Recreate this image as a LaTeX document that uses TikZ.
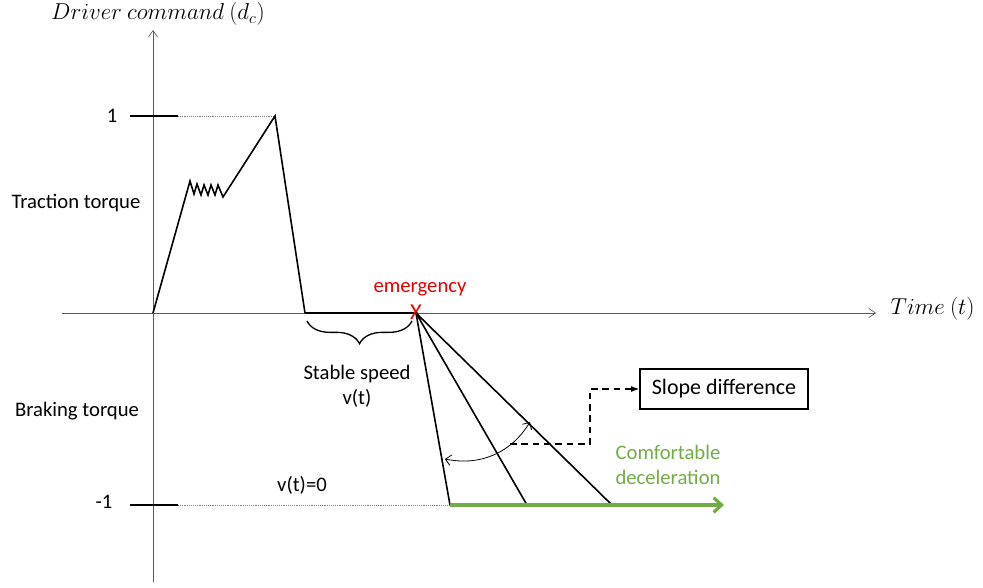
\documentclass[tikz,border=0pt]{standalone}
\usepackage{fontspec}
\setmainfont{Carlito}
\usepackage{tikz}
\usetikzlibrary{positioning, arrows.meta, calc, decorations.pathreplacing}

\definecolor{emred}{RGB}{230,0,0}
\definecolor{comfgreen}{RGB}{112,173,71}

\tikzset{
  axis/.style={-{Straight Barb[length=5pt, width=7pt]}, gray!70!black, line width=0.5pt},
  level/.style={line width=1.3pt},
  guide/.style={densely dotted, gray, thin},
  cmd/.style={line width=1.2pt, black},
  lbl/.style={font=\fontsize{15.5}{19}\selectfont},
  mathlbl/.style={font=\fontsize{17}{19}\selectfont},
  slopebox/.style={draw, line width=1.2pt, minimum width=126pt, minimum height=30pt, font=\fontsize{16.5}{19}\selectfont}
}

\begin{document}
\begin{tikzpicture}[x=0.75pt, y=-0.75pt]
  \useasboundingbox (0,0) rectangle (983,587);
  % axes
  \coordinate (o) at (153,313);
  \coordinate (ybot) at (153,582);
  \coordinate (ytop) at (153,30);
  \coordinate (xl) at (62,313);
  \coordinate (xr) at (876,313);
  \draw[axis] (ybot) -- (ytop);
  \draw[axis] (xl) -- (xr);
  \node[mathlbl] (ttl) at (158,14) {$Driver\ command\ (d_c)$};
  \node[mathlbl, anchor=west] (tlbl) at (886,309) {$Time\ (t)$};

  % levels 1 and -1
  \coordinate (up1) at (130,116); \coordinate (up2) at (178,116);
  \coordinate (lo1) at (130,505); \coordinate (lo2) at (178,505);
  \draw[level] (up1) -- (up2);
  \draw[level] (lo1) -- (lo2);
  \node[lbl] (one) at (112,116) {1};
  \node[lbl] (mone) at (104,502) {-1};
  \node[lbl] (trac) at (76,203) {Traction torque};
  \node[lbl] (brak) at (77,411) {Braking torque};

  % command curve
  \coordinate (peak) at (275,116);
  \coordinate (drop) at (305,313);
  \coordinate (em) at (416,313);
  \draw[guide] (up2) -- (peak);
  \draw[cmd] (o) -- (190,181) -- (194,194) -- (197,184) -- (201,195) -- (204,185)
    -- (208,195) -- (211,185) -- (215,195) -- (218,185) -- (223,197) -- (peak) -- (drop);
  \draw[line width=1.8pt] (drop) -- (em);
  \node[text=emred, font=\fontsize{17}{17}\selectfont] (x) at (416,312) {X};
  \node[lbl, text=emred] (emlbl) at (420,289) {emergency};

  % stable speed
  \draw[decorate, decoration={brace, amplitude=17pt, mirror}, line width=1pt] (307,321) -- (412,321);
  \node[lbl, align=center] (stab) at (357,386) {Stable speed\\v(t)};

  % braking slopes
  \coordinate (b1) at (450,505);
  \coordinate (b2) at (527,505);
  \coordinate (b3) at (612,505);
  \coordinate (gend) at (724,505);
  \draw[guide] (lo2) -- (b1);
  \node[lbl] (v0) at (302,485) {v(t)=0};
  \draw[cmd] (em) -- (b1);
  \draw[cmd] (em) -- (b2);
  \draw[cmd] (em) -- (b3);
  \draw[comfgreen, line width=2.4pt, -{Straight Barb[length=6pt, width=11pt]}] (b1) -- (gend);
  \node[lbl, text=comfgreen, align=center] (comf) at (668,465) {Comfortable\\deceleration};

  % slope difference
  \coordinate (a1) at (445,459);
  \coordinate (a2) at (530,422);
  \draw[{Straight Barb[length=4pt]}-{Straight Barb[length=4pt]}, line width=0.6pt] (a1) to[bend right=35] (a2);
  \node[slopebox] (slope) at (724,389) {Slope difference};
  \coordinate (d1) at (510,444);
  \coordinate (d2) at (590,444);
  \draw[dash pattern=on 5pt off 3.5pt, line width=1pt, -{Latex[length=6pt]}] (d1) -- (d2) |- (slope.west);
\end{tikzpicture}
\end{document}
